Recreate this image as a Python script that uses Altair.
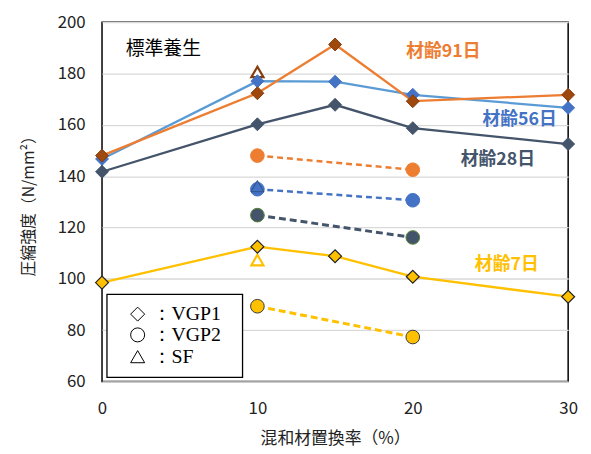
import altair as alt
import pandas as pd

# ---------------- data ----------------
x_vgp1 = [0, 10, 15, 20, 30]
vgp1_7 = [98.5, 112.5, 108.8, 100.8, 93.0]
vgp1_28 = [141.7, 160.2, 167.8, 158.7, 152.5]
vgp1_56 = [146.7, 177.0, 176.8, 171.7, 166.6]
vgp1_91 = [148.0, 172.3, 191.3, 169.2, 171.7]

x_vgp2 = [10, 20]
vgp2_7 = [89.3, 77.3]
vgp2_28 = [124.8, 116.1]
vgp2_56 = [134.9, 130.6]
vgp2_91 = [148.0, 142.5]

x_sf = [10]
sf_7 = [107.3]
sf_56 = [136.1]
sf_91 = [180.6]

x_ticks = [0, 10, 20, 30]
y_ticks = [60, 80, 100, 120, 140, 160, 180, 200]
ages = ["材齢7日", "材齢28日", "材齢56日", "材齢91日"]
legend_labels = ["：VGP1", "：VGP2", "：SF"]
legend_shapes = ["diamond", "circle", "triangle-up"]

FONT_JP = "Noto Sans CJK JP"

xs = alt.Scale(domain=[0, 30], nice=False)
ys = alt.Scale(domain=[60, 200], nice=False)

XAX = alt.Axis(
    values=x_ticks, grid=False, ticks=False, domain=False,
    labelFont=FONT_JP, labelFontSize=17, labelColor="#222", labelPadding=19,
    titleFont=FONT_JP, titleFontSize=17, titleFontWeight="normal",
    titleColor="#222", titlePadding=15, labelFlush=False,
)
YAX = alt.Axis(
    values=y_ticks, grid=True, gridColor="#D9D9D9", gridWidth=1.3,
    ticks=False, domain=False,
    labelFont=FONT_JP, labelFontSize=17, labelColor="#222", labelPadding=17,
    titleFont=FONT_JP, titleFontSize=16, titleFontWeight="normal",
    titleColor="#222", titlePadding=21, labelFlush=False,
)


def df(x, y):
    return pd.DataFrame({"x": x, "y": y})


def enc(ch, first=False):
    if first:
        return ch.encode(
            x=alt.X("x:Q", scale=xs, axis=XAX, title="混和材置換率（%）"),
            y=alt.Y("y:Q", scale=ys, axis=YAX, title="圧縮強度（N/mm²）"),
        )
    return ch.encode(x=alt.X("x:Q", scale=xs), y=alt.Y("y:Q", scale=ys))


def line(x, y, color, width=2.3, dash=None, first=False):
    kw = dict(color=color, strokeWidth=width)
    if dash:
        kw["strokeDash"] = dash
    return enc(alt.Chart(df(x, y)).mark_line(**kw), first)


def pts(x, y, shape, fill, stroke, size, sw=1.2):
    return enc(alt.Chart(df(x, y)).mark_point(
        shape=shape, filled=True, fill=fill, stroke=stroke, strokeWidth=sw,
        size=size, opacity=1,
    ))


C7, C28, C56L, C56M, C91L, C91M = "#FFC000", "#44546A", "#5B9BD5", "#4472C4", "#ED7D31", "#9E480E"

layers = [
    # dashed VGP2
    line(x_vgp2, vgp2_91, C91L, 2.5, [6, 4], first=True),
    line(x_vgp2, vgp2_56, C56M, 2.5, [6, 4]),
    line(x_vgp2, vgp2_28, C28, 3, [7, 4]),
    line(x_vgp2, vgp2_7, C7, 3, [7, 4]),
    pts(x_vgp2, vgp2_91, "circle", C91L, C91L, 190, 1),
    pts(x_vgp2, vgp2_56, "circle", C56M, C56M, 190, 1),
    pts(x_vgp2, vgp2_28, "circle", C28, "#548235", 190, 1),
    pts(x_vgp2, vgp2_7, "circle", C7, "#3a3a3a", 190, 1),
    # SF
    pts(x_sf, sf_56, "triangle-up", C56M, "#2F4F7F", 170, 1),
    pts(x_sf, sf_7, "triangle-up", "white", C7, 150, 2.2),
    # VGP1 lines
    line(x_vgp1, vgp1_7, C7),
    line(x_vgp1, vgp1_28, C28),
    line(x_vgp1, vgp1_56, C56L),
    pts(x_sf, sf_91, "triangle-up", "white", "#843C0C", 150, 2.2),
    line(x_vgp1, vgp1_91, C91L),
    pts(x_vgp1, vgp1_7, "diamond", C7, "#222222", 170, 1.2),
    pts(x_vgp1, vgp1_28, "diamond", C28, C28, 170, 1),
    pts(x_vgp1, vgp1_56, "diamond", C56M, C56M, 170, 1),
    pts(x_vgp1, vgp1_91, "diamond", C91M, "#843C0C", 170, 1),
]

# annotations
ann = [
    ("標準養生", 24, 27, "black", "normal", "left", 19),
    (ages[3], 345, 30, C91L, "bold", "center", 18),
    (ages[2], 422, 99, C56M, "bold", "center", 18),
    (ages[1], 400, 139, C28, "bold", "center", 18),
    (ages[0], 409, 245, C7, "bold", "center", 18),
]
for t, px, py, col, fw, al, fs in ann:
    layers.append(
        alt.Chart(pd.DataFrame({"t": [t]})).mark_text(
            font=FONT_JP, fontSize=fs, color=col, fontWeight=fw, align=al, baseline="middle"
        ).encode(text="t:N", x=alt.value(px), y=alt.value(py))
    )

# legend box
layers.append(
    alt.Chart(pd.DataFrame({"a": [0]})).mark_rect(
        fill="white", stroke="black", strokeWidth=1.3
    ).encode(x=alt.value(5), x2=alt.value(142), y=alt.value(275), y2=alt.value(359))
)
leg = pd.DataFrame({
    "lab": legend_labels,
    "shape": legend_shapes,
    "yy": [295, 316, 338],
})
layers.append(
    alt.Chart(leg).mark_point(filled=False, stroke="black", strokeWidth=1, size=200, opacity=1).encode(
        x=alt.value(36),
        y=alt.Y("yy:Q", scale=None),
        shape=alt.Shape("shape:N", scale=None, legend=None),
    )
)
layers.append(
    alt.Chart(leg).mark_text(
        font="Liberation Serif", fontSize=20, color="black", align="left", baseline="middle"
    ).encode(x=alt.value(50), y=alt.Y("yy:Q", scale=None), text="lab:N")
)

chart = alt.layer(*layers).properties(
    width=471, height=363, padding={"left": 12, "top": 3, "right": 5, "bottom": 2}
).configure_view(
    stroke="black", strokeWidth=1.5
)

chart.save("out.html", embed_options={"renderer": "svg", "actions": False})
